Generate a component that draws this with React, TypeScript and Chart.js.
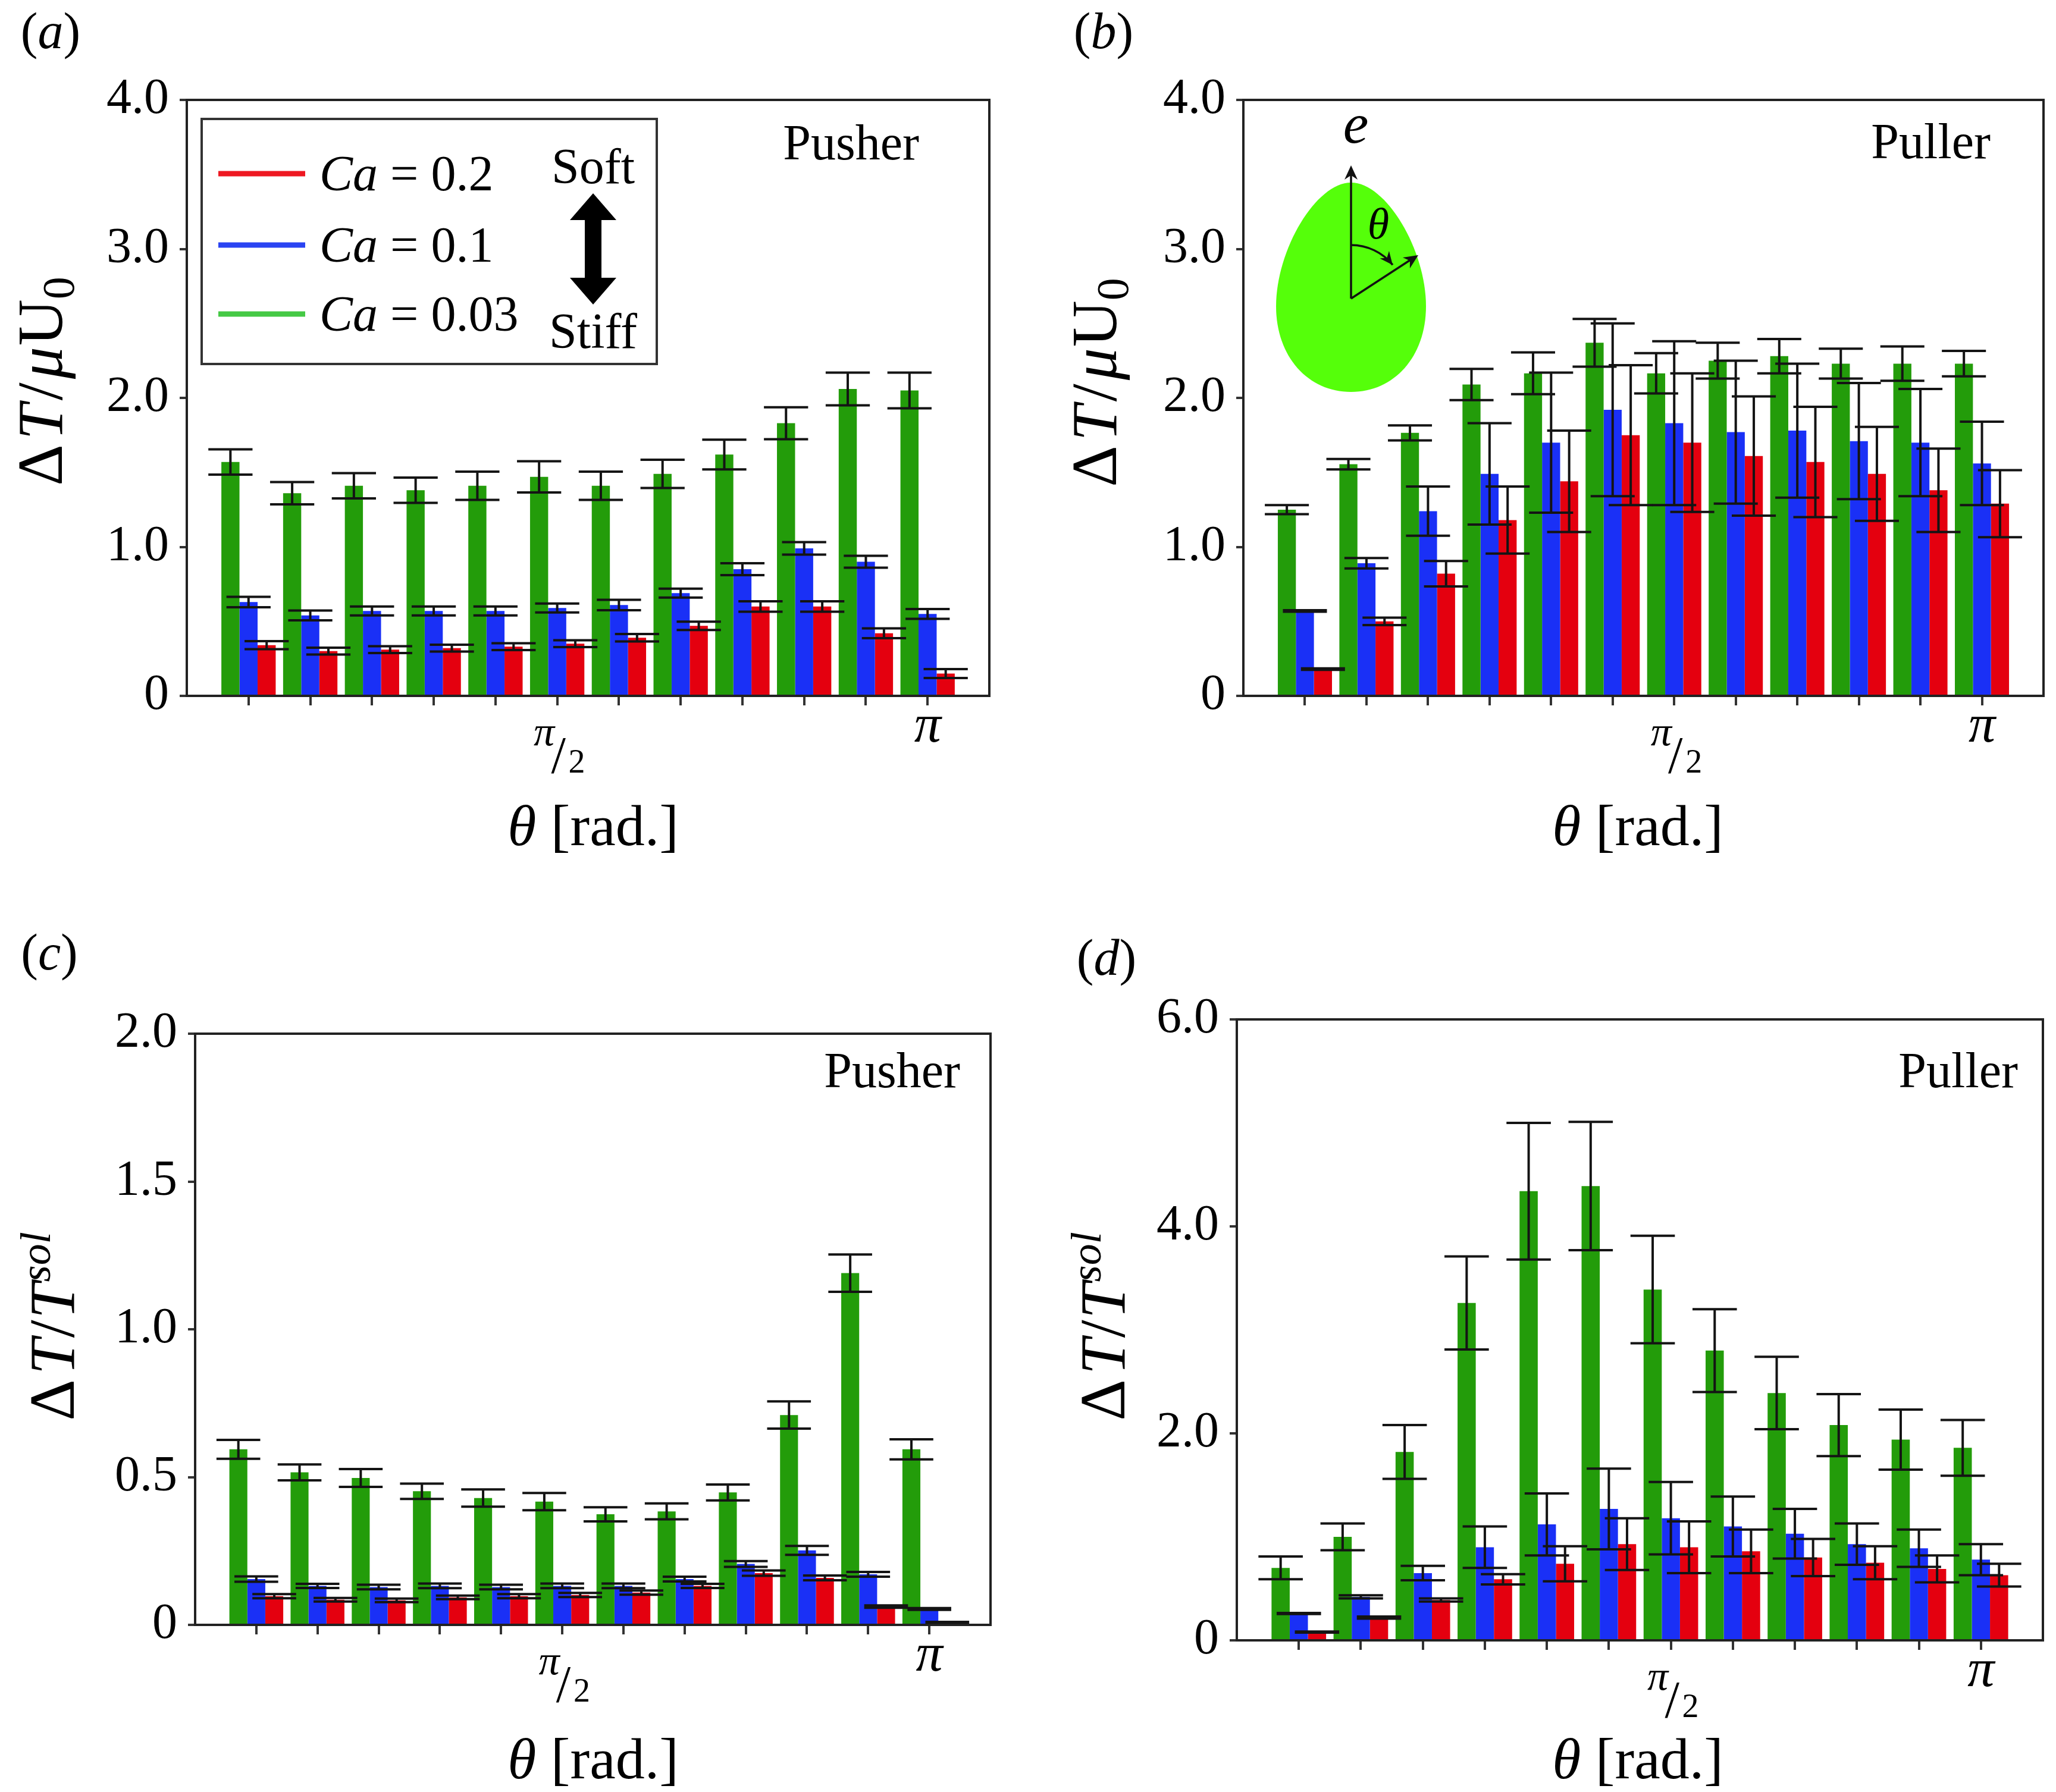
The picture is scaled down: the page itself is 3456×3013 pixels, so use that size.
import React, { useEffect, useRef } from 'react';
import { Chart, registerables } from 'chart.js';
import type { Plugin } from 'chart.js';

Chart.register(...registerables);

// theta positions, in units of pi/12 (6 -> pi/2, 12 -> pi)
const thetaSteps = [1, 2, 3, 4, 5, 6, 7, 8, 9, 10, 11, 12];
const capillaryNumbers = ['0.03', '0.1', '0.2'];
const barColors = ['#239c0a', '#1a30f6', '#e4000f'];
const legendColors = ['#45c945', '#2a44f2', '#ee1822'];

// (a) pusher, dT / mu U0
const pusherForce003 = [1.57, 1.36, 1.41, 1.38, 1.41, 1.47, 1.41, 1.49, 1.62, 1.83, 2.06, 2.05];
const pusherForce003Err = [0.085, 0.075, 0.085, 0.085, 0.095, 0.105, 0.095, 0.095, 0.1, 0.107, 0.11, 0.12];
const pusherForce01 = [0.63, 0.54, 0.57, 0.57, 0.57, 0.59, 0.61, 0.69, 0.85, 0.99, 0.9, 0.55];
const pusherForce01Err = [0.035, 0.033, 0.03, 0.03, 0.03, 0.03, 0.035, 0.03, 0.04, 0.042, 0.04, 0.033];
const pusherForce02 = [0.34, 0.3, 0.31, 0.32, 0.33, 0.35, 0.39, 0.47, 0.6, 0.6, 0.42, 0.15];
const pusherForce02Err = [0.027, 0.023, 0.023, 0.023, 0.023, 0.023, 0.025, 0.028, 0.035, 0.035, 0.033, 0.03];

// (b) puller, dT / mu U0
const pullerForce003 = [1.25, 1.555, 1.765, 2.09, 2.165, 2.37, 2.165, 2.25, 2.28, 2.23, 2.23, 2.23];
const pullerForce003Err = [0.03, 0.035, 0.05, 0.105, 0.14, 0.16, 0.135, 0.12, 0.115, 0.1, 0.115, 0.085];
const pullerForce01 = [0.57, 0.89, 1.24, 1.49, 1.7, 1.92, 1.83, 1.77, 1.78, 1.71, 1.7, 1.56];
const pullerForce01Err = [0.005, 0.035, 0.165, 0.34, 0.47, 0.58, 0.55, 0.48, 0.45, 0.39, 0.36, 0.28];
const pullerForce02 = [0.18, 0.5, 0.82, 1.18, 1.44, 1.75, 1.7, 1.61, 1.57, 1.49, 1.38, 1.29];
const pullerForce02Err = [0.005, 0.025, 0.085, 0.225, 0.34, 0.47, 0.465, 0.4, 0.37, 0.315, 0.28, 0.225];

// (c) pusher, dT / T_sol
const pusherRatio003 = [0.594, 0.516, 0.497, 0.452, 0.429, 0.417, 0.374, 0.384, 0.448, 0.71, 1.19, 0.594];
const pusherRatio003Err = [0.032, 0.027, 0.03, 0.026, 0.029, 0.029, 0.024, 0.027, 0.027, 0.046, 0.063, 0.034];
const pusherRatio01 = [0.155, 0.132, 0.128, 0.132, 0.128, 0.132, 0.132, 0.155, 0.206, 0.252, 0.171, 0.054];
const pusherRatio01Err = [0.009, 0.007, 0.008, 0.008, 0.008, 0.008, 0.008, 0.008, 0.01, 0.015, 0.008, 0.003];
const pusherRatio02 = [0.097, 0.085, 0.083, 0.093, 0.097, 0.101, 0.109, 0.132, 0.175, 0.159, 0.062, 0.008];
const pusherRatio02Err = [0.007, 0.006, 0.006, 0.006, 0.007, 0.007, 0.007, 0.007, 0.009, 0.008, 0.004, 0.002];

// (d) puller, dT / T_sol
const pullerRatio003 = [0.7, 1.0, 1.82, 3.26, 4.34, 4.39, 3.39, 2.8, 2.39, 2.08, 1.94, 1.86];
const pullerRatio003Err = [0.11, 0.13, 0.26, 0.45, 0.66, 0.62, 0.52, 0.4, 0.35, 0.3, 0.29, 0.27];
const pullerRatio01 = [0.26, 0.42, 0.65, 0.9, 1.12, 1.27, 1.18, 1.1, 1.03, 0.93, 0.89, 0.78];
const pullerRatio01Err = [0.005, 0.015, 0.07, 0.2, 0.3, 0.39, 0.35, 0.29, 0.24, 0.2, 0.18, 0.15];
const pullerRatio02 = [0.08, 0.22, 0.39, 0.59, 0.74, 0.93, 0.9, 0.86, 0.8, 0.75, 0.69, 0.63];
const pullerRatio02Err = [0.005, 0.01, 0.015, 0.05, 0.17, 0.25, 0.25, 0.21, 0.18, 0.16, 0.13, 0.11];

const yTicksForce = [0, 1, 2, 3, 4];
const yTicksPusherRatio = [0, 0.5, 1, 1.5, 2];
const yTicksPullerRatio = [0, 2, 4, 6];

const SERIF = '"Liberation Serif", "Times New Roman", serif';

type Part = { t: string; it?: boolean; size?: number; dy?: number; gap?: number };

function drawRich(ctx: CanvasRenderingContext2D, parts: Part[], size: number, x: number, baseline: number, align: 'left' | 'center' | 'right') {
  const fontOf = (p: Part) => `${p.it ? 'italic ' : ''}${p.size ?? size}px ${SERIF}`;
  const widths = parts.map(p => {
    ctx.font = fontOf(p);
    return ctx.measureText(p.t).width + (p.gap ?? 0);
  });
  const total = widths.reduce((a, b) => a + b, 0);
  let cx = align === 'left' ? x : align === 'right' ? x - total : x - total / 2;
  ctx.textAlign = 'left';
  ctx.textBaseline = 'alphabetic';
  ctx.fillStyle = '#000';
  parts.forEach((p, i) => {
    ctx.font = fontOf(p);
    ctx.fillText(p.t, cx, baseline + (p.dy ?? 0));
    cx += widths[i];
  });
}

function arrowHead(ctx: CanvasRenderingContext2D, x: number, y: number, angle: number, len: number, half: number) {
  ctx.save();
  ctx.translate(x, y);
  ctx.rotate(angle);
  ctx.beginPath();
  ctx.moveTo(0, 0);
  ctx.lineTo(-len, -half);
  ctx.lineTo(-len * 0.7, 0);
  ctx.lineTo(-len, half);
  ctx.closePath();
  ctx.fill();
  ctx.restore();
}

// the droplet sketch in panel (b)
function drawDrop(ctx: CanvasRenderingContext2D) {
  ctx.save();
  ctx.fillStyle = '#55ff0a';
  ctx.beginPath();
  ctx.moveTo(543, 307);
  ctx.bezierCurveTo(602, 307, 669, 420, 669, 515);
  ctx.bezierCurveTo(669, 600, 615, 659, 543, 659);
  ctx.bezierCurveTo(471, 659, 417, 600, 417, 515);
  ctx.bezierCurveTo(417, 420, 484, 307, 543, 307);
  ctx.fill();

  const ox = 543, oy = 502;
  ctx.strokeStyle = '#111';
  ctx.fillStyle = '#111';
  ctx.lineWidth = 3.5;
  ctx.beginPath();
  ctx.moveTo(ox, oy);
  ctx.lineTo(ox, 282);
  ctx.moveTo(ox, oy);
  ctx.lineTo(652, 431);
  ctx.stroke();
  arrowHead(ctx, ox, 278, -Math.PI / 2, 24, 11);
  const rayAng = Math.atan2(431 - oy, 652 - ox);
  arrowHead(ctx, 656, 429, rayAng, 24, 11);
  const r = 90, endA = -0.68;
  ctx.beginPath();
  ctx.arc(ox, oy, r, -Math.PI / 2, endA);
  ctx.stroke();
  arrowHead(ctx, ox + r * Math.cos(endA), oy + r * Math.sin(endA), endA + Math.PI / 2, 22, 10);

  drawRich(ctx, [{ t: 'e', it: true }], 96, 551, 240, 'center');
  drawRich(ctx, [{ t: 'θ', it: true }], 74, 589, 401, 'center');
  ctx.restore();
}

// legend box of panel (a)
function drawLegend(ctx: CanvasRenderingContext2D, chart: Chart) {
  ctx.save();
  ctx.strokeStyle = '#333';
  ctx.lineWidth = 4;
  ctx.strokeRect(339, 200, 765, 412);
  const rows = [2, 1, 0];
  const rowY = [292, 412, 528];
  rows.forEach((di, k) => {
    ctx.strokeStyle = legendColors[di];
    ctx.lineWidth = 9;
    ctx.beginPath();
    ctx.moveTo(367, rowY[k]);
    ctx.lineTo(513, rowY[k]);
    ctx.stroke();
    const label = String(chart.data.datasets[di].label).replace('Ca', '');
    drawRich(ctx, [{ t: 'Ca', it: true }, { t: label }], 84, 537, rowY[k] + 28, 'left');
  });
  drawRich(ctx, [{ t: 'Soft' }], 84, 997, 308, 'center');
  drawRich(ctx, [{ t: 'Stiff' }], 84, 997, 585, 'center');

  // double arrow Soft <-> Stiff
  const x = 997, top = 325, bot = 512, hl = 45, hw = 39, sw = 14;
  ctx.fillStyle = '#000';
  ctx.beginPath();
  ctx.moveTo(x, top);
  ctx.lineTo(x + hw, top + hl);
  ctx.lineTo(x + sw, top + hl);
  ctx.lineTo(x + sw, bot - hl);
  ctx.lineTo(x + hw, bot - hl);
  ctx.lineTo(x, bot);
  ctx.lineTo(x - hw, bot - hl);
  ctx.lineTo(x - sw, bot - hl);
  ctx.lineTo(x - sw, top + hl);
  ctx.lineTo(x - hw, top + hl);
  ctx.closePath();
  ctx.fill();
  ctx.restore();
}

interface PanelSpec {
  id: string;
  left: number;
  top: number;
  width: number;
  height: number;
  padding: { left: number; right: number; top: number; bottom: number };
  yTicks: number[];
  values: number[][];
  errors: number[][];
  halfPiAt: number;
  tag: string;
  tagRight: number;
  tagBaseline: number;
  letterX: number;
  letterBaseline: number;
  yTitle: Part[];
  yTitleX: number;
  yTitleY: number;
  xTitleX: number;
  xTitleBaseline: number;
  legend?: boolean;
  drop?: boolean;
}

const forceTitle: Part[] = [
  { t: 'Δ', gap: 8 },
  { t: 'T', it: true, gap: 6 },
  { t: '/', gap: 6 },
  { t: 'μ', it: true, gap: 2 },
  { t: 'U' },
  { t: '0', size: 76, dy: 20 },
];
const ratioTitle: Part[] = [
  { t: 'Δ', gap: 8 },
  { t: 'T', it: true, gap: 2 },
  { t: '/', gap: 2 },
  { t: 'T', it: true, gap: 2 },
  { t: 'sol', it: true, size: 72, dy: -40 },
];

const panels: PanelSpec[] = [
  {
    id: 'a', left: 0, top: 0, width: 1728, height: 1500,
    padding: { left: 114, right: 65, top: 168, bottom: 230 },
    yTicks: yTicksForce,
    values: [pusherForce003, pusherForce01, pusherForce02],
    errors: [pusherForce003Err, pusherForce01Err, pusherForce02Err],
    halfPiAt: 6, tag: 'Pusher', tagRight: 1545, tagBaseline: 268,
    letterX: 85, letterBaseline: 81,
    yTitle: forceTitle, yTitleX: 104, yTitleY: 641,
    xTitleX: 997, xTitleBaseline: 1421, legend: true,
  },
  {
    id: 'b', left: 1728, top: 0, width: 1728, height: 1500,
    padding: { left: 162, right: 21, top: 168, bottom: 230 },
    yTicks: yTicksForce,
    values: [pullerForce003, pullerForce01, pullerForce02],
    errors: [pullerForce003Err, pullerForce01Err, pullerForce02Err],
    halfPiAt: 7, tag: 'Puller', tagRight: 1618, tagBaseline: 266,
    letterX: 127, letterBaseline: 81,
    yTitle: forceTitle, yTitleX: 148, yTitleY: 643,
    xTitleX: 1025, xTitleBaseline: 1421, drop: true,
  },
  {
    id: 'c', left: 0, top: 1500, width: 1728, height: 1513,
    padding: { left: 128, right: 63, top: 238, bottom: 181 },
    yTicks: yTicksPusherRatio,
    values: [pusherRatio003, pusherRatio01, pusherRatio02],
    errors: [pusherRatio003Err, pusherRatio01Err, pusherRatio02Err],
    halfPiAt: 6, tag: 'Pusher', tagRight: 1614, tagBaseline: 328,
    letterX: 83, letterBaseline: 130,
    yTitle: ratioTitle, yTitleX: 124, yTitleY: 730,
    xTitleX: 997, xTitleBaseline: 1490,
  },
  {
    id: 'd', left: 1728, top: 1500, width: 1728, height: 1513,
    padding: { left: 151, right: 22, top: 214, bottom: 155 },
    yTicks: yTicksPullerRatio,
    values: [pullerRatio003, pullerRatio01, pullerRatio02],
    errors: [pullerRatio003Err, pullerRatio01Err, pullerRatio02Err],
    halfPiAt: 7, tag: 'Puller', tagRight: 1664, tagBaseline: 328,
    letterX: 132, letterBaseline: 139,
    yTitle: ratioTitle, yTitleX: 162, yTitleY: 730,
    xTitleX: 1025, xTitleBaseline: 1490,
  },
];

const BarPanel: React.FC<{ spec: PanelSpec }> = ({ spec }) => {
  const canvasRef = useRef<HTMLCanvasElement>(null);

  useEffect(() => {
    if (!canvasRef.current) return;

    const overlay: Plugin<'bar'> = {
      id: 'overlay' + spec.id,
      afterDatasetsDraw: (chart) => {
        const { ctx } = chart;
        const yScale = chart.scales.y;
        ctx.save();
        ctx.strokeStyle = '#141414';
        ctx.lineWidth = 4;
        chart.data.datasets.forEach((ds, di) => {
          const meta = chart.getDatasetMeta(di);
          meta.data.forEach((el: any, i) => {
            const v = ds.data[i] as number;
            const e = spec.errors[di][i];
            const x = el.x;
            const half = el.width * 1.22;
            const yHi = yScale.getPixelForValue(v + e);
            const yLo = yScale.getPixelForValue(Math.max(v - e, 0));
            ctx.beginPath();
            ctx.moveTo(x, yHi);
            ctx.lineTo(x, yLo);
            ctx.moveTo(x - half, yHi);
            ctx.lineTo(x + half, yHi);
            ctx.moveTo(x - half, yLo);
            ctx.lineTo(x + half, yLo);
            ctx.stroke();
          });
        });
        ctx.restore();
      },
      afterDraw: (chart) => {
        const { ctx, chartArea } = chart;
        ctx.save();
        // closed frame
        ctx.strokeStyle = '#222';
        ctx.lineWidth = 4;
        ctx.strokeRect(chartArea.left, chartArea.top, chartArea.right - chartArea.left, chartArea.bottom - chartArea.top);

        // theta tick labels
        const xs = chart.scales.x;
        const bottom = chartArea.bottom;
        drawRich(ctx, [{ t: 'π', it: true }], 90, xs.getPixelForValue(12), bottom + 77, 'center');
        const hx = xs.getPixelForValue(spec.halfPiAt);
        drawRich(ctx, [{ t: 'π', it: true }], 70, hx - 22, bottom + 83, 'center');
        drawRich(ctx, [{ t: '/' }], 88, hx + 2, bottom + 129, 'center');
        drawRich(ctx, [{ t: '2' }], 56, hx + 33, bottom + 129, 'center');

        // axis titles
        drawRich(ctx, [{ t: 'θ', it: true }, { t: ' [rad.]' }], 98, spec.xTitleX, spec.xTitleBaseline, 'center');
        ctx.save();
        ctx.translate(spec.yTitleX, spec.yTitleY);
        ctx.rotate(-Math.PI / 2);
        drawRich(ctx, spec.yTitle, 108, 0, 0, 'center');
        ctx.restore();

        // panel letter and swimmer type
        drawRich(ctx, [{ t: '(' }, { t: spec.id, it: true }, { t: ')' }], 86, spec.letterX, spec.letterBaseline, 'center');
        drawRich(ctx, [{ t: spec.tag }], 84, spec.tagRight, spec.tagBaseline, 'right');

        if (spec.legend) drawLegend(ctx, chart as unknown as Chart);
        if (spec.drop) drawDrop(ctx);
        ctx.restore();
      },
    };

    const yTicks = spec.yTicks;
    const chart = new Chart(canvasRef.current, {
      type: 'bar',
      data: {
        labels: thetaSteps,
        datasets: spec.values.map((vals, di) => ({
          label: 'Ca = ' + capillaryNumbers[di],
          data: vals,
          backgroundColor: barColors[di],
          borderWidth: 0,
          categoryPercentage: 0.88,
          barPercentage: 1.0,
        })),
      },
      options: {
        responsive: false,
        devicePixelRatio: 1,
        animation: false,
        events: [],
        layout: { padding: spec.padding },
        plugins: {
          legend: { display: false },
          tooltip: { enabled: false },
          title: { display: false },
        },
        scales: {
          x: {
            type: 'linear',
            min: 0,
            max: 13,
            offset: false,
            ticks: { stepSize: 1, callback: () => '' },
            afterBuildTicks: (scale: any) => {
              scale.ticks = thetaSteps.map(v => ({ value: v }));
            },
            afterFit: (scale: any) => {
              scale.height = 100;
            },
            grid: { offset: false, drawOnChartArea: false, drawTicks: true, tickLength: 16, color: '#333', lineWidth: 4 },
            border: { display: true, color: '#222', width: 4 },
          },
          y: {
            min: yTicks[0],
            max: yTicks[yTicks.length - 1],
            afterBuildTicks: (scale: any) => {
              scale.ticks = yTicks.map(v => ({ value: v }));
            },
            afterFit: (scale: any) => {
              scale.width = 200;
            },
            ticks: {
              callback: (v: any) => (Number(v) === 0 ? '0' : Number(v).toFixed(1)),
              font: { family: SERIF, size: 84 },
              color: '#000',
              padding: 18,
            },
            grid: { drawOnChartArea: false, drawTicks: true, tickLength: 12, color: '#333', lineWidth: 4 },
            border: { display: true, color: '#222', width: 4 },
          },
        },
      },
      plugins: [overlay],
    });

    return () => {
      chart.destroy();
    };
  }, [spec]);

  return (
    <canvas
      ref={canvasRef}
      width={spec.width}
      height={spec.height}
      style={{ position: 'absolute', left: spec.left, top: spec.top, width: spec.width, height: spec.height }}
    />
  );
};

export default function App() {
  return (
    <div style={{ position: 'absolute', left: 0, top: 0, width: 3456, height: 3013, background: '#fff', overflow: 'hidden' }}>
      {panels.map(p => (
        <BarPanel key={p.id} spec={p} />
      ))}
    </div>
  );
}
